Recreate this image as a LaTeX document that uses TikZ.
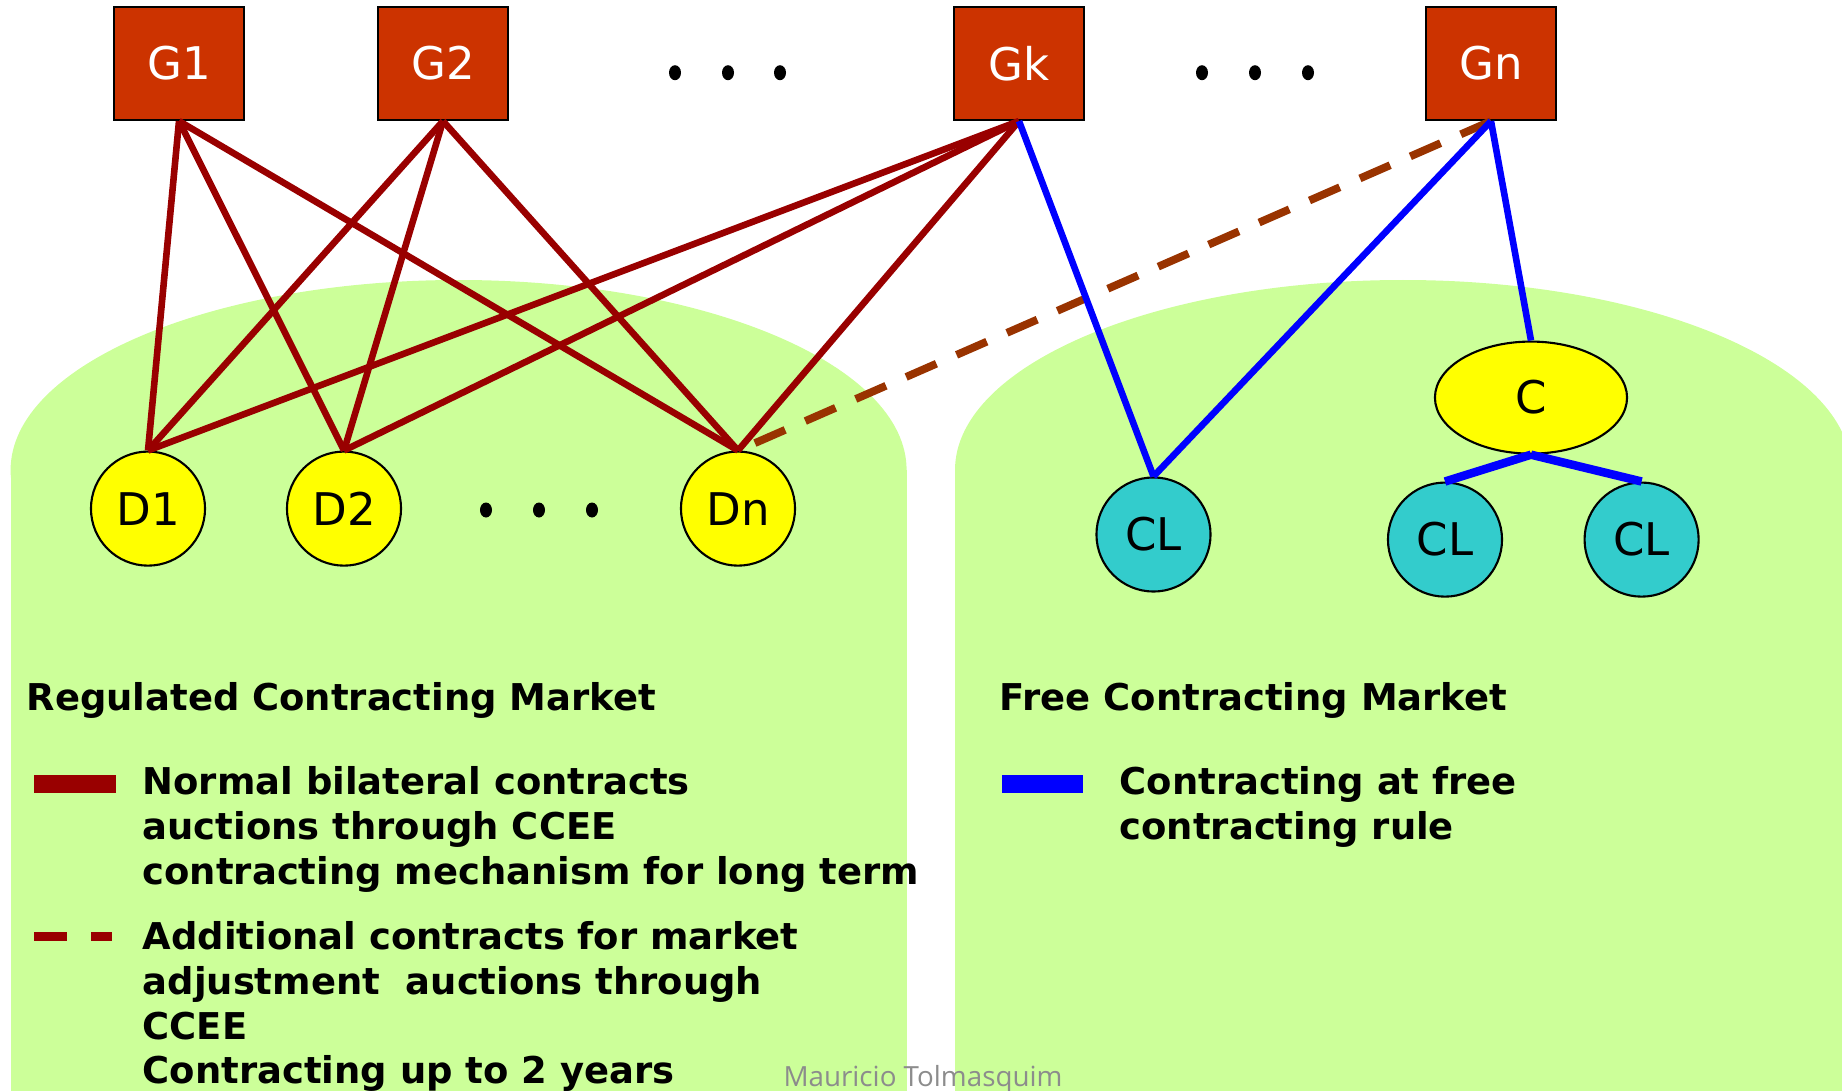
\documentclass[tikz,border=0pt]{standalone}
\usepackage{fontspec}
\setmainfont{DejaVu Sans}
\newfontfamily\signfont{Open Sans}
\usetikzlibrary{shapes.geometric}

\definecolor{mktgreen}{HTML}{CCFF99}
\definecolor{genred}{HTML}{CC3300}
\definecolor{normalred}{HTML}{990000}
\definecolor{extrabrown}{HTML}{993300}
\definecolor{freeblue}{HTML}{0000FF}
\definecolor{distyellow}{HTML}{FFFF00}
\definecolor{clcyan}{HTML}{33CCCC}
\definecolor{signgray}{HTML}{8C8C8C}

\begin{document}
\begin{tikzpicture}[x=0.01cm,y=-0.01cm,
  gen/.style={draw=black,line width=0.6pt,fill=genred,text=white,
    minimum width=1.3cm,minimum height=1.13cm,inner sep=0pt,
    font=\fontsize{12.8}{14}\selectfont},
  dist/.style={circle,draw=black,line width=0.6pt,fill=distyellow,
    minimum size=1.14cm,inner sep=0pt,font=\fontsize{12.8}{14}\selectfont},
  client/.style={dist,fill=clcyan},
  cons/.style={ellipse,draw=black,line width=0.6pt,fill=distyellow,
    minimum width=1.92cm,minimum height=1.12cm,inner sep=0pt,
    font=\fontsize{12.8}{14}\selectfont},
  normal/.style={draw=normalred,line width=0.066cm},
  extra/.style={draw=extrabrown,line width=0.078cm,dash pattern=on 0.33cm off 0.22cm},
  free/.style={draw=freeblue,line width=0.066cm},
  legend/.style={anchor=base west,inner sep=0pt,align=left,
    font=\bfseries\fontsize{10.5}{12.7}\selectfont}
]
\useasboundingbox (0,0) rectangle (1842,1091);

% ---------------- MARKET AREAS ----------------
\fill[mktgreen] (458.6,470) ellipse (448 and 190);
\fill[mktgreen] (10.6,470) rectangle (906.7,1091);
\fill[mktgreen] (1403,470) ellipse (448 and 190);
\fill[mktgreen] (955,470) rectangle (1842,1091);

% ---------------- GENERATORS ----------------
\node[gen] (g1) at (179,63.5) {G1};
\node[gen] (g2) at (443,63.5) {G2};
\node[gen] (gk) at (1019,63.5) {Gk};
\node[gen] (gn) at (1491,63.5) {Gn};

% ---------------- DISTRIBUTORS ----------------
\node[dist] (d1) at (148,508.6) {D1};
\node[dist] (d2) at (344,508.6) {D2};
\node[dist] (dn) at (738,508.6) {Dn};

% ---------------- FREE CONSUMERS ----------------
\node[cons] (c) at (1531,397.6) {C};
\node[client] (cl1) at (1153.5,534.5) {CL};
\node[client] (cl2) at (1445,539.6) {CL};
\node[client] (cl3) at (1641.6,539.6) {CL};

% dots between nodes
\foreach \x in {675,728,780,1202,1255,1308}
  \fill (\x,72.7) ellipse (6 and 7.5);
\foreach \x in {486,539,592}
  \fill (\x,510) ellipse (6 and 7.5);

% regulated contracts
\foreach \g in {g1,g2,gk}
  \foreach \d in {d1,d2,dn}
    \draw[normal] (\g.south) -- (\d.north);
\draw[extra] (gn.south) -- (dn.north);

% free contracts
\draw[free] (gk.south) -- (cl1.north);
\draw[free] (gn.south) -- (cl1.north);
\draw[free] (gn.south) -- (c.north);
\draw[free,line width=0.085cm] (c.south) -- (cl2.north);
\draw[free,line width=0.085cm] (c.south) -- (cl3.north);

% ---------------- LEGEND ----------------
% (multi-line nodes sit on the baseline of their last line)
\node[legend] (regtitle) at (26,710) {Regulated Contracting Market};
\fill[normalred] (34,775) rectangle (116,792.7);
\node[legend] (regnormal) at (142,884.2) {Normal bilateral contracts\\auctions through CCEE\\contracting mechanism for long term};
\fill[normalred] (34,931.7) rectangle (67,940.7);
\fill[normalred] (91,931.7) rectangle (111.6,940.7);
\node[legend] (regextra) at (142,1083.7) {Additional contracts for market\\adjustment\ \ auctions through\\CCEE\\Contracting up to 2 years};

\node[legend] (freetitle) at (999,710) {Free Contracting Market};
\fill[freeblue] (1002,775) rectangle (1083,792.7);
\node[legend] (freerule) at (1119,839.6) {Contracting at free\\contracting rule};

\node[anchor=base,inner sep=0pt,text=signgray,font=\signfont\fontsize{7.9}{8}\selectfont] (sign) at (923,1086.7) {Mauricio Tolmasquim};

\end{tikzpicture}
\end{document}
